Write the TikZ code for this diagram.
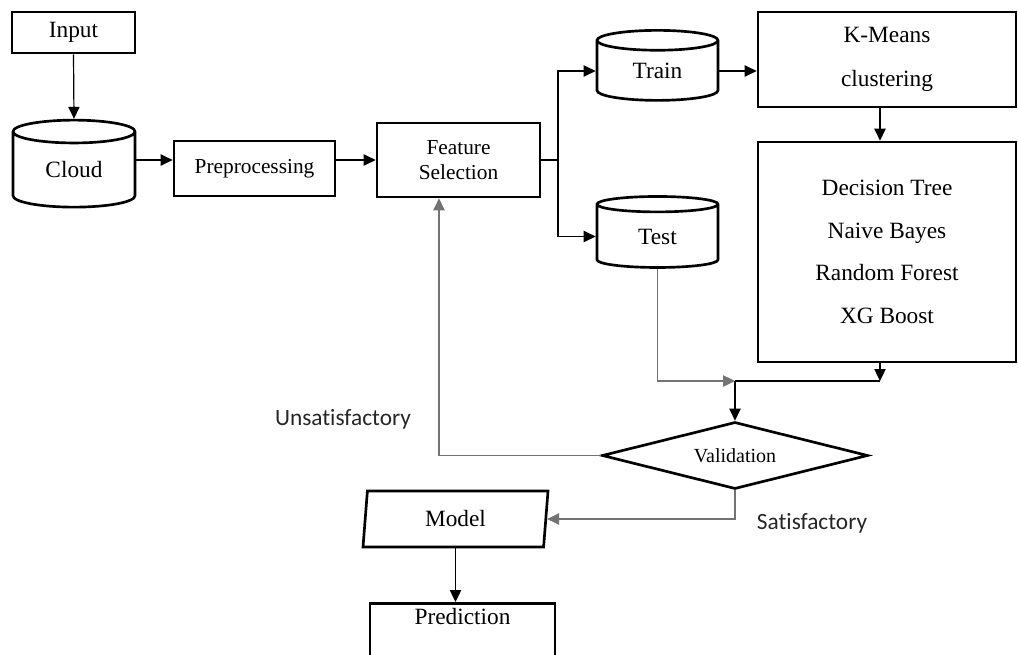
\documentclass[tikz,border=0pt]{standalone}
\usepackage{fontspec}
\setmainfont{Liberation Serif}
\newfontfamily\notefont{Carlito}[Ligatures=CommonOff]
\usetikzlibrary{shapes.geometric,arrows.meta}

\tikzset{every picture/.style={line width=0.9pt}}
\tikzset{
	box/.style={draw, rectangle, line width=2pt, align=center, inner sep=2pt, font=\fontsize{17.5}{33}\selectfont},
	store/.style={draw, cylinder, shape border rotate=90, shape aspect=0.4, line width=2pt, inner sep=0pt, font=\fontsize{17.5}{21}\selectfont},
	decide/.style={draw, diamond, aspect=4, line width=2pt, inner sep=0pt, font=\fontsize{15}{18}\selectfont},
	io/.style={draw, trapezium, trapezium left angle=75, trapezium right angle=105, trapezium stretches body, line width=2pt, inner sep=0pt, font=\fontsize{17.5}{21}\selectfont},
	arr/.style={-{Triangle[length=9pt,width=8.5pt]}},
	link/.style={draw=black!55},
	note/.style={font=\notefont\fontsize{17.5}{21}\selectfont, text=black!85}
}

\begin{document}
\begin{tikzpicture}[x=0.75pt,y=0.75pt,yscale=-1]
	%set diagram size 1018 x 654
	\clip (0,0) rectangle (1018,654);

	%Shape: Rectangle
	\node[box, minimum width=92.25pt, minimum height=30.75pt] (input) at (73.5,32.5) {Input};
	%Shape: Can
	\node[store, minimum width=91.5pt, minimum height=65.25pt] (cloud) at (74,170) {Cloud};
	%Shape: Rectangle
	\node[box, font=\fontsize{16}{19}\selectfont, minimum width=120.75pt, minimum height=41.25pt] (pre) at (254.5,168.5) {Preprocessing};
	%Shape: Rectangle
	\node[box, font=\fontsize{16}{19}\selectfont, minimum width=122.25pt, minimum height=55.5pt] (fs) at (458.5,160) {Feature\\Selection};
	%Shape: Can
	\node[store, minimum width=90.75pt, minimum height=52.5pt] (train) at (657.5,71) {Train};
	%Shape: Can
	\node[store, minimum width=90.75pt, minimum height=53.25pt] (test) at (657.5,236.5) {Test};
	%Shape: Rectangle
	\node[box, minimum width=193.5pt, minimum height=71.25pt] (kmeans) at (887,59.5) {K-Means\\clustering};
	%Shape: Rectangle
	\node[box, font=\fontsize{17.5}{32}\selectfont, minimum width=193.5pt, minimum height=165pt] (algos) at (887,252) {Decision Tree\\Naive Bayes\\Random Forest\\XG Boost};
	%Shape: Diamond
	\node[decide, minimum width=199.5pt, minimum height=50.25pt] (val) at (735,455.5) {Validation};
	%Shape: Parallelogram
	\node[io, minimum width=138.75pt, minimum height=42pt] (model) at (455.5,519) {Model};
	%Shape: Rectangle
	\node[box, anchor=north, minimum width=138.75pt, text height=11pt, text depth=50pt, inner ysep=5pt] (pred) at (462.5,602) {Prediction};

	%Points where lines meet
	\coordinate (split) at (558,160);
	\coordinate (mid) at (880,381);
	\coordinate (join) at (val.north |- mid);
	\coordinate (back) at (439,0);

	%Straight Lines
	\draw[arr] (input.south) -- (cloud.north);
	\draw[arr] (cloud.east |- fs.west) -- (pre.west |- fs.west);
	\draw[arr] (pre.east |- fs.west) -- (fs.west);
	\draw (fs.east) -- (split);
	\draw[arr] (split) |- (train.west);
	\draw[arr] (split) |- (test.west);
	\draw[arr] (train.east) -- (kmeans.west |- train.east);
	\draw[arr] (kmeans.south -| mid) -- (algos.north -| mid);
	\draw[arr] (algos.south -| mid) -- (mid);
	\draw (mid) -- (join);
	\draw[arr, link] (test.south) |- (join);
	\draw[arr] (join) -- (val.north);
	\draw[arr, link] (val.west) -| (back |- fs.south);
	\draw[arr, link] (val.south) |- (model.east);
	\draw[arr] (model.south) -- (model.south |- pred.north);

	% Text Node
	\node[note] (unsat) at (343,419) {Unsatisfactory};
	% Text Node
	\node[note] (sat) at (812,523) {Satisfactory};

\end{tikzpicture}
\end{document}
